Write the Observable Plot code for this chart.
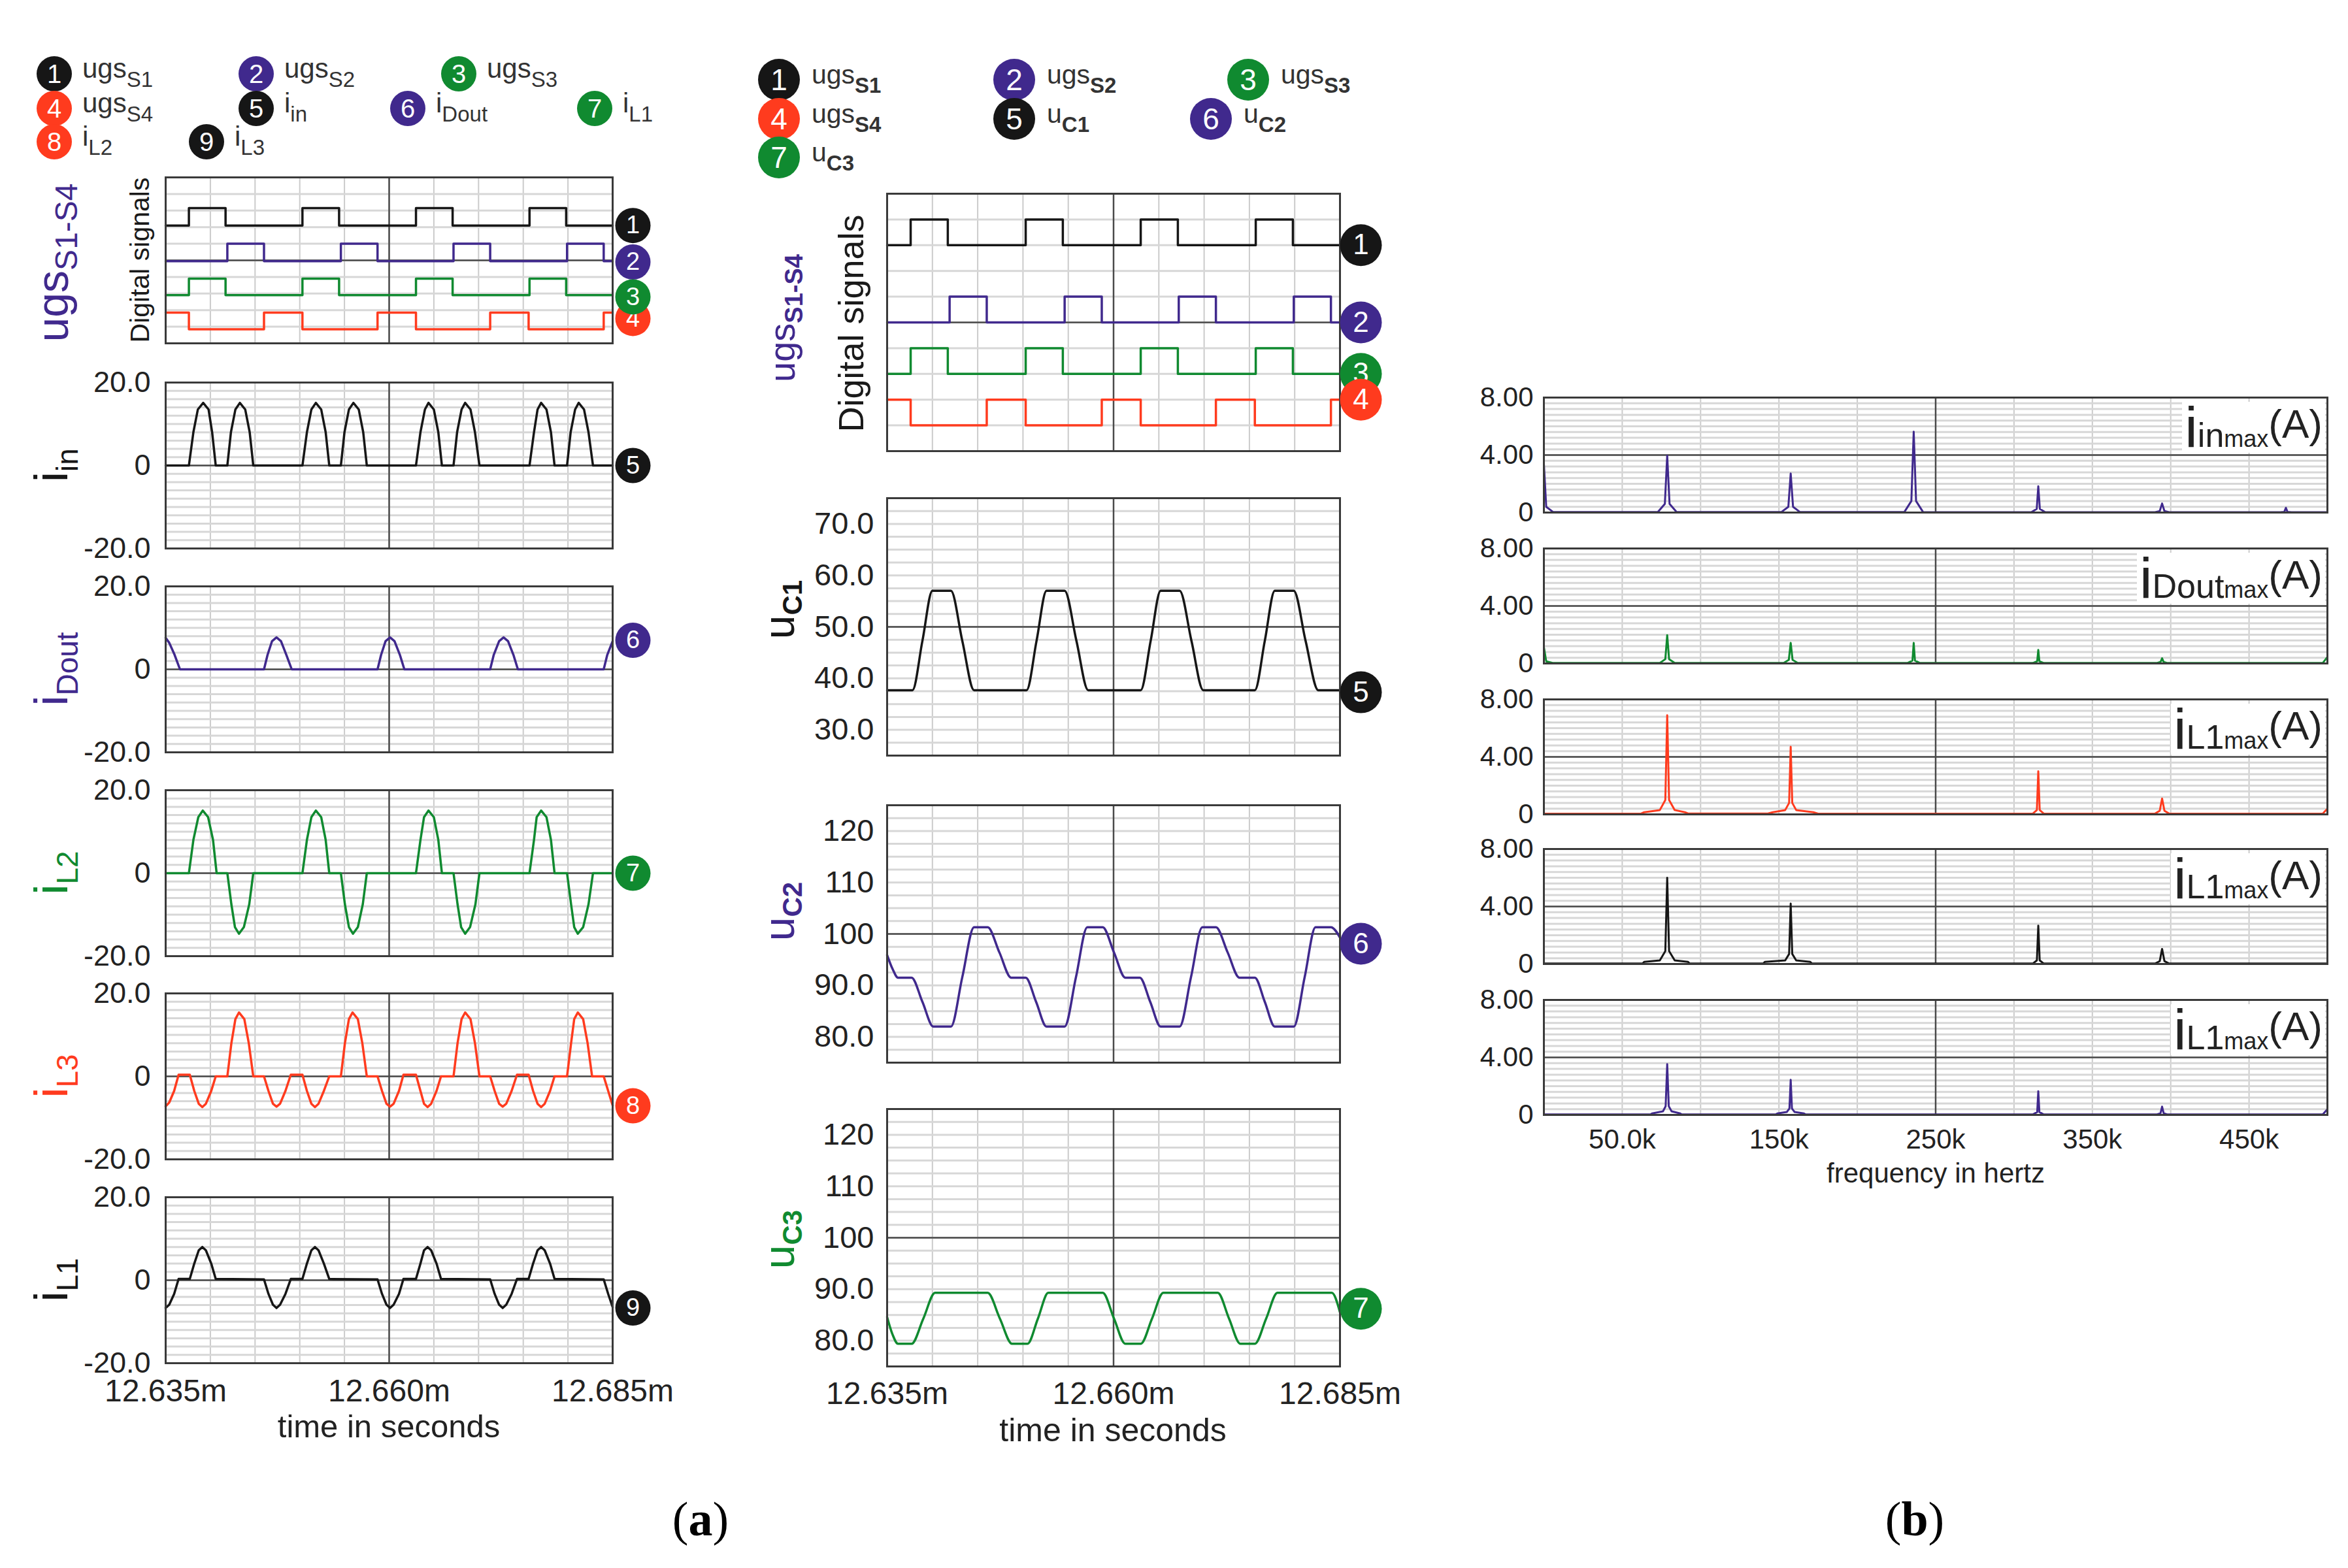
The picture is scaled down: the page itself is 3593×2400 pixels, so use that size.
<!DOCTYPE html>
<html><head><meta charset="utf-8">
<script src="https://cdn.jsdelivr.net/npm/d3@7"></script>
<script src="https://cdn.jsdelivr.net/npm/@observablehq/plot@0.6"></script>
<style>
html,body{margin:0;padding:0;background:#fff}
#root{position:relative;width:3593px;height:2400px;background:#fff;overflow:hidden;font-family:"Liberation Sans",Arial,Helvetica,sans-serif;color:#222}
.abs{position:absolute}
.rot{position:absolute;transform:translate(-50%,-50%) rotate(-90deg);white-space:nowrap;line-height:1}
.ctr{position:absolute;transform:translate(-50%,-50%);white-space:nowrap;line-height:1}
.leg{position:absolute;display:flex;align-items:center;white-space:nowrap;color:#333}
.dotc{border-radius:50%;color:#fff;display:flex;align-items:center;justify-content:center;flex:none}
.sl{position:absolute;background:#fff;white-space:nowrap;color:#222;padding:0 4px}
svg{overflow:visible}
</style></head><body><div id="root"></div>
<script>
// ---------------- DATA ----------------
// time axis: microseconds after 12.635 ms
const timeTicks = [0, 25, 50];
const timeTickLabels = ["12.635m", "12.660m", "12.685m"];
const currentTicks = [-20, 0, 20];
const currentTickLabels = ["-20.0", "0", "20.0"];
const uc1Ticks = [30, 40, 50, 60, 70];
const uc1TickLabels = ["30.0", "40.0", "50.0", "60.0", "70.0"];
const uc23Ticks = [80, 90, 100, 110, 120];
const uc23TickLabels = ["80.0", "90.0", "100", "110", "120"];
const freqTicks = [50, 150, 250, 350, 450];
const freqTickLabels = ["50.0k", "150k", "250k", "350k", "450k"];
const specTicks = [0, 4, 8];
const specTickLabels = ["0", "4.00", "8.00"];

// digital gate signals: [time, state]
const s1Edges = [[0,0],[2.6,1],[6.7,0],[15.3,1],[19.4,0],[28.0,1],[32.1,0],[40.7,1],[44.8,0],[50,0]];
const s2Edges = [[0,0],[6.9,1],[11.0,0],[19.6,1],[23.7,0],[32.2,1],[36.3,0],[44.9,1],[49.0,0],[50,0]];
const s3Edges = [[0,0],[2.6,1],[6.7,0],[15.3,1],[19.4,0],[28.0,1],[32.1,0],[40.7,1],[44.8,0],[50,0]];
const s4Edges = [[0,1],[2.6,0],[11.0,1],[15.3,0],[23.7,1],[28.0,0],[36.3,1],[40.6,0],[49.0,1],[50,1]];
// [low, high] trace levels inside the digital panels
const digLevelsA = {S1:[7.1,8.15], S2:[4.95,6.0], S3:[2.9,3.9], S4:[0.85,1.85]};
const digLevelsB = {S1:[8,9], S2:[5,6], S3:[3,4], S4:[1,2]};

const iIn = [
[0,0],[2.6,0],[3.1,8],[3.6,13.5],[4.2,15.1],[4.8,13.5],[5.2,8],[5.6,0],
[6.9,0],[7.3,8],[7.8,13.5],[8.3,15.1],[8.9,13.5],[9.4,8],[9.8,0],
[15.3,0],[15.8,8],[16.3,13.5],[16.8,15.1],[17.4,13.5],[17.9,8],[18.3,0],
[19.6,0],[20.0,8],[20.5,13.5],[21.0,15.1],[21.6,13.5],[22.1,8],[22.5,0],
[28.0,0],[28.5,8],[29.0,13.5],[29.4,15.1],[30.0,13.5],[30.5,8],[30.9,0],
[32.2,0],[32.6,8],[33.1,13.5],[33.5,15.1],[34.1,13.5],[34.6,8],[35.1,0],
[40.7,0],[41.2,8],[41.6,13.5],[42.0,15.1],[42.6,13.5],[43.1,8],[43.5,0],
[44.9,0],[45.3,8],[45.8,13.5],[46.2,15.1],[46.8,13.5],[47.3,8],[47.8,0],
[50,0]];

const iDout = [
[0,7.6],[0.4,6.4],[1.0,3.5],[1.6,0],
[11.0,0],[11.4,3.5],[11.9,6.8],[12.4,7.7],[12.9,6.8],[13.5,3.5],[14.1,0],
[23.7,0],[24.1,3.5],[24.6,6.8],[25.1,7.7],[25.6,6.8],[26.2,3.5],[26.7,0],
[36.3,0],[36.7,3.5],[37.3,6.8],[37.8,7.7],[38.3,6.8],[38.9,3.5],[39.4,0],
[49.0,0],[49.4,3.5],[50,6.8]];

const iL2 = [
[0,0],[2.6,0],[3.1,8],[3.65,13.5],[4.15,15.1],[4.75,13.5],[5.3,8],[5.7,0],
[6.9,0],[7.35,-7.5],[7.75,-13],[8.2,-14.6],[8.75,-13],[9.35,-7.5],[9.8,0],
[15.3,0],[15.8,8],[16.3,13.5],[16.8,15.1],[17.4,13.5],[17.9,8],[18.3,0],
[19.6,0],[20.05,-7.5],[20.5,-13],[20.95,-14.6],[21.5,-13],[22.05,-7.5],[22.5,0],
[28.0,0],[28.5,8],[28.9,13.5],[29.4,15.1],[30.0,13.5],[30.5,8],[30.9,0],
[32.2,0],[32.65,-7.5],[33.05,-13],[33.5,-14.6],[34.05,-13],[34.65,-7.5],[35.1,0],
[40.7,0],[41.2,8],[41.5,13.5],[42.0,15.1],[42.6,13.5],[43.1,8],[43.5,0],
[44.9,0],[45.35,-7.5],[45.7,-13],[46.1,-14.6],[46.7,-13],[47.3,-7.5],[47.8,0],
[50,0]];

const iL3 = [
[0,-7.2],[0.4,-6.3],[0.95,-3.5],[1.45,0.4],[2.7,0.4],
[3.2,-3.5],[3.7,-6.6],[4.1,-7.4],[4.5,-6.6],[5.1,-3.5],[5.6,0],[6.9,0],
[7.35,8],[7.8,13.8],[8.2,15.4],[8.8,13.8],[9.3,8],[9.8,0],[11.0,0],
[11.5,-3.5],[12.0,-6.6],[12.4,-7.3],[12.8,-6.6],[13.4,-3.5],[14.0,0.4],[15.3,0.4],
[15.8,-3.5],[16.3,-6.6],[16.7,-7.4],[17.1,-6.6],[17.7,-3.5],[18.3,0],[19.6,0],
[20.05,8],[20.5,13.8],[20.9,15.4],[21.5,13.8],[22.0,8],[22.5,0],[23.7,0],
[24.2,-3.5],[24.7,-6.6],[25.1,-7.3],[25.5,-6.6],[26.1,-3.5],[26.6,0.4],[28.0,0.4],
[28.5,-3.5],[28.9,-6.6],[29.3,-7.4],[29.7,-6.6],[30.3,-3.5],[30.8,0],[32.2,0],
[32.65,8],[33.1,13.8],[33.5,15.4],[34.1,13.8],[34.6,8],[35.1,0],[36.3,0],
[36.8,-3.5],[37.3,-6.6],[37.7,-7.3],[38.1,-6.6],[38.7,-3.5],[39.3,0.4],[40.6,0.4],
[41.1,-3.5],[41.6,-6.6],[42.0,-7.4],[42.4,-6.6],[43.0,-3.5],[43.5,0],[44.9,0],
[45.35,8],[45.7,13.8],[46.1,15.4],[46.7,13.8],[47.2,8],[47.7,0],[49.0,0],
[49.5,-3.5],[50,-7.0]];

const iL1 = [
[0,-6.7],[0.4,-5.9],[0.95,-3.3],[1.45,0.3],[2.7,0.3],
[3.2,4],[3.7,7.2],[4.1,8.0],[4.5,7.2],[5.1,4],[5.6,0.3],[11.0,0.2],
[11.5,-3.3],[12.0,-5.9],[12.4,-6.7],[12.8,-5.9],[13.4,-3.3],[14.0,0.3],[15.3,0.3],
[15.8,4],[16.3,7.2],[16.7,8.0],[17.1,7.2],[17.7,4],[18.3,0.3],[23.7,0.2],
[24.2,-3.3],[24.7,-5.9],[25.1,-6.7],[25.5,-5.9],[26.1,-3.3],[26.6,0.3],[28.0,0.3],
[28.5,4],[28.9,7.2],[29.3,8.0],[29.7,7.2],[30.3,4],[30.8,0.3],[36.3,0.2],
[36.8,-3.3],[37.3,-5.9],[37.7,-6.7],[38.1,-5.9],[38.7,-3.3],[39.3,0.3],[40.6,0.3],
[41.1,4],[41.6,7.2],[42.0,8.0],[42.4,7.2],[43.0,4],[43.5,0.3],[49.0,0.2],
[49.5,-3.3],[50,-6.5]];

const uC1 = [
[0,37.7],[2.8,37.7],[3.9,47.3],[5.0,57.0],[7.05,57.0],[8.3,47.3],[9.6,37.7],
[15.4,37.7],[16.5,47.3],[17.6,57.0],[19.6,57.0],[20.9,47.3],[22.2,37.7],
[28.0,37.7],[29.1,47.3],[30.2,57.0],[32.3,57.0],[33.6,47.3],[34.9,37.7],
[40.6,37.7],[41.7,47.3],[42.8,57.0],[44.9,57.0],[46.2,47.3],[47.6,37.7],[50,37.7]];

const uC2 = [
[0,95.9],[0.6,93.2],[1.2,91.5],[2.7,91.5],[3.9,86.8],[5.1,82.0],[7.05,82.0],[8.3,91.6],[9.6,101.3],
[11.1,101.3],[12.4,96.4],[13.7,91.5],[15.3,91.5],[16.45,86.8],[17.6,82.0],[19.6,82.0],[20.85,91.6],[22.1,101.3],
[23.8,101.3],[25.05,96.4],[26.3,91.5],[27.9,91.5],[29.05,86.8],[30.2,82.0],[32.3,82.0],[33.55,91.6],[34.8,101.3],
[36.3,101.3],[37.6,96.4],[38.9,91.5],[40.6,91.5],[41.7,86.8],[42.8,82.0],[44.9,82.0],[46.1,91.6],[47.3,101.3],
[49.0,101.3],[50,99.3]];

const uC3 = [
[0,84.6],[0.6,81.2],[1.2,79.4],[2.7,79.4],[4.0,84.3],[5.3,89.3],
[11.1,89.3],[12.45,84.3],[13.8,79.4],[15.5,79.4],[16.65,84.3],[17.8,89.3],
[23.8,89.3],[25.05,84.3],[26.3,79.4],[28.0,79.4],[29.25,84.3],[30.5,89.3],
[36.5,89.3],[37.75,84.3],[39.0,79.4],[40.6,79.4],[41.85,84.3],[43.1,89.3],
[49.1,89.3],[50,85.5]];

// spectra: [frequency kHz, amplitude A]
const specIin = [
[0,3.4],[1.5,0.4],[6,0.03],
[72.7,0.03],[77.2,0.6],[78.7,3.96],[80.2,0.6],[84.7,0.03],
[151.5,0.03],[156,0.4],[157.5,2.72],[159,0.4],[163.5,0.03],
[230,0.03],[234.5,0.8],[236,5.63],[237.5,0.8],[242,0.03],
[311,0.02],[314.5,0.25],[315.5,1.83],[316.5,0.25],[320,0.02],
[390,0.02],[393,0.1],[394.5,0.63],[396,0.1],[399,0.02],
[470,0.02],[472.5,0.05],[473.5,0.33],[474.5,0.05],[477,0.02],
[500,0.02]];
const specIdout = [
[0,1.15],[1.5,0.15],[6,0.03],
[74,0.03],[77.5,0.3],[78.7,1.97],[79.9,0.3],[83.5,0.03],
[153,0.03],[156.3,0.25],[157.5,1.43],[158.7,0.25],[162,0.03],
[232,0.03],[235.2,0.2],[236,1.43],[236.8,0.2],[240,0.03],
[312,0.03],[314.8,0.15],[315.5,0.94],[316.2,0.15],[319,0.03],
[391,0.03],[393.5,0.1],[394.5,0.36],[395.5,0.1],[398,0.03],
[497,0.03],[500,0.45]];
const specIL1a = [
[0,0.05],[62,0.05],[64,0.15],[74,0.3],[77.5,1.0],[78.7,6.9],[79.9,1.0],[83.5,0.3],[90,0.15],[92,0.06],
[143,0.06],[146,0.15],[154,0.3],[156.5,0.8],[157.5,4.7],[158.5,0.8],[161,0.3],[172,0.15],[175,0.05],
[312,0.05],[314.6,0.3],[315.5,3.0],[316.4,0.3],[319,0.05],
[390,0.05],[393,0.25],[394.5,1.1],[396,0.25],[399,0.05],
[497,0.05],[500,0.4]];
const specIL1b = [
[0,0.03],[63,0.03],[64,0.15],[74,0.25],[77.5,0.9],[78.7,6.0],[79.9,0.9],[83.5,0.25],[92,0.15],[93,0.03],
[140,0.03],[141,0.15],[154,0.25],[156.5,0.7],[157.5,4.2],[158.5,0.7],[161,0.25],[170,0.15],[171,0.03],
[312,0.03],[314.6,0.25],[315.5,2.67],[316.4,0.25],[319,0.03],
[390,0.03],[393,0.2],[394.5,1.05],[396,0.2],[399,0.03],
[500,0.03]];
const specIL1c = [
[0,0.03],[68,0.03],[69,0.1],[76,0.25],[77.7,0.6],[78.7,3.53],[79.7,0.6],[81.5,0.25],[87,0.1],[88,0.03],
[148,0.03],[149,0.1],[155,0.2],[156.7,0.45],[157.5,2.44],[158.3,0.45],[160,0.2],[166,0.1],[167,0.03],
[312,0.03],[314.8,0.2],[315.5,1.65],[316.2,0.2],[319,0.03],
[391,0.03],[393.5,0.12],[394.5,0.58],[395.5,0.12],[398,0.03],
[497,0.03],[500,0.4]];

// ---------------- STYLE ----------------
const BLACK = "#161616", PURPLE = "#40298d", GREEN = "#108a30", RED = "#ff3b1e";
const FONT = '"Liberation Sans", Arial, Helvetica, sans-serif';
const root = document.getElementById("root");

function panel(c) {
  const mL = c.mL, mR = c.mR, mT = c.mT ?? 10, mB = c.mB ?? 10;
  const marks = [
    Plot.ruleX(c.xGrid, {stroke: "#cbcbcb", strokeWidth: 2}),
    Plot.ruleY(c.yGrid, {stroke: "#d7d7d7", strokeWidth: 3}),
    Plot.ruleX([c.xCenter], {stroke: "#4a4a4a", strokeWidth: 2.5}),
    Plot.ruleY([c.yCenter], {stroke: "#4a4a4a", strokeWidth: 2.5})
  ];
  for (const s of c.series) {
    marks.push(Plot.line(s.data, {x: d => d[0], y: s.y || (d => d[1]), stroke: s.color,
      strokeWidth: c.sw || 3.5, curve: s.curve || "linear"}));
  }
  marks.push(Plot.frame({stroke: "#3a3a3a", strokeWidth: 3}));
  for (const m of (c.markers || [])) {
    marks.push(Plot.dot([m], {x: () => c.xDomain[1], y: d => d.y, r: c.mr, fill: m.c, stroke: "none", dx: c.mdx}));
    marks.push(Plot.text([m], {x: () => c.xDomain[1], y: d => d.y, text: d => d.n, fill: "#ffffff", dx: c.mdx, fontSize: c.mfs}));
  }
  const xOpt = {domain: c.xDomain, label: null};
  if (c.xTicks) Object.assign(xOpt, {axis: "bottom", ticks: c.xTicks, tickFormat: d => c.xLabels[c.xTicks.indexOf(d)], tickSize: 0, tickPadding: c.xPad});
  else xOpt.axis = null;
  const yOpt = {domain: c.yDomain, label: null};
  if (c.yTicks) Object.assign(yOpt, {axis: "left", ticks: c.yTicks, tickFormat: d => c.yLabels[c.yTicks.indexOf(d)], tickSize: 0, tickPadding: c.yPad});
  else yOpt.axis = null;
  const svg = Plot.plot({
    width: mL + c.W + mR, height: mT + c.H + mB,
    marginLeft: mL, marginRight: mR, marginTop: mT, marginBottom: mB,
    x: xOpt, y: yOpt,
    style: {fontFamily: FONT, fontSize: (c.yfs || 45) + "px", color: "#222", background: "transparent", overflow: "visible"},
    marks
  });
  if (c.xfs) svg.querySelectorAll('g[aria-label^="x-axis"]').forEach(g => g.style.fontSize = c.xfs + "px");
  const wrap = document.createElement("div");
  wrap.className = "abs";
  wrap.style.left = (c.left - mL) + "px";
  wrap.style.top = (c.top - mT) + "px";
  wrap.appendChild(svg);
  root.appendChild(wrap);
}

function digitalSeries(lv) {
  return [
    {data: s1Edges, y: d => lv.S1[d[1]], color: BLACK, curve: "step-after"},
    {data: s2Edges, y: d => lv.S2[d[1]], color: PURPLE, curve: "step-after"},
    {data: s3Edges, y: d => lv.S3[d[1]], color: GREEN, curve: "step-after"},
    {data: s4Edges, y: d => lv.S4[d[1]], color: RED, curve: "step-after"}
  ];
}

function html(tag, cls, style, inner) {
  const e = document.createElement(tag);
  if (cls) e.className = cls;
  Object.assign(e.style, style);
  e.innerHTML = inner;
  root.appendChild(e);
  return e;
}
function rotTitle(cx, cy, color, inner) {
  html("div", "rot", {left: cx + "px", top: cy + "px", color}, inner);
}
function legendItem(cx, cy, r, num, color, main, sub, o) {
  html("div", "leg", {left: (cx - r) + "px", top: (cy - r) + "px", height: (2 * r) + "px"},
    `<div class="dotc" style="width:${2*r}px;height:${2*r}px;background:${color};font-size:${o.nfs}px">${num}</div>` +
    `<span style="margin-left:${o.gap}px;font-size:${o.mfs}px;line-height:1;position:relative;top:${o.dy}px">${main}` +
    `<span style="font-size:${o.sfs}px;vertical-align:${o.va};font-weight:${o.bold ? 700 : 400}">${sub}</span></span>`);
}

// ---------------- COLUMN (a) left ----------------
const tGrid = d3.range(0, 50.001, 5);
const iGrid = d3.range(-20, 20.001, 2);
const A = {L: 253, W: 684, H: 254, tops: [271, 585, 897, 1209, 1520, 1832]};
const baseA = {left: A.L, W: A.W, H: A.H, mL: 253, mR: 110, xDomain: [0, 50], xGrid: tGrid, xCenter: 25,
  mr: 27, mdx: 31, mfs: 38, yfs: 45, yPad: 23};
panel({...baseA, top: A.tops[0], yDomain: [0, 10], yGrid: d3.range(0, 10.001, 1), yCenter: 5,
  series: digitalSeries(digLevelsA),
  markers: [{n: "4", y: 1.5, c: RED}, {n: "1", y: 7.1, c: BLACK}, {n: "2", y: 4.9, c: PURPLE}, {n: "3", y: 2.8, c: GREEN}]});
const curA = {yDomain: [-20, 20], yGrid: iGrid, yCenter: 0, yTicks: currentTicks, yLabels: currentTickLabels};
panel({...baseA, ...curA, top: A.tops[1], series: [{data: iIn, color: BLACK}], markers: [{n: "5", y: 0, c: BLACK}]});
panel({...baseA, ...curA, top: A.tops[2], series: [{data: iDout, color: PURPLE}], markers: [{n: "6", y: 7.0, c: PURPLE}]});
panel({...baseA, ...curA, top: A.tops[3], series: [{data: iL2, color: GREEN}], markers: [{n: "7", y: 0, c: GREEN}]});
panel({...baseA, ...curA, top: A.tops[4], series: [{data: iL3, color: RED}], markers: [{n: "8", y: -7.1, c: RED}]});
panel({...baseA, ...curA, top: A.tops[5], mB: 100, series: [{data: iL1, color: BLACK}], markers: [{n: "9", y: -6.7, c: BLACK}],
  xTicks: timeTicks, xLabels: timeTickLabels, xPad: 24, xfs: 48});

// ---------------- COLUMN (a) middle ----------------
const B = {L: 1357, W: 693, H: 394, tops: [296, 762, 1232, 1697]};
const baseB = {left: B.L, W: B.W, H: B.H, mL: 200, mR: 110, xDomain: [0, 50], xGrid: tGrid, xCenter: 25,
  mr: 32, mdx: 32, mfs: 44, yfs: 47, yPad: 20};
panel({...baseB, top: B.tops[0], yDomain: [0, 10], yGrid: d3.range(0, 10.001, 1), yCenter: 5,
  series: digitalSeries(digLevelsB),
  markers: [{n: "1", y: 8, c: BLACK}, {n: "2", y: 5, c: PURPLE}, {n: "3", y: 3, c: GREEN}, {n: "4", y: 2, c: RED}]});
panel({...baseB, top: B.tops[1], yDomain: [25, 75], yGrid: d3.range(25, 75.001, 2.5), yCenter: 50,
  yTicks: uc1Ticks, yLabels: uc1TickLabels, series: [{data: uC1, color: BLACK, curve: "monotone-x"}],
  markers: [{n: "5", y: 37.3, c: BLACK}]});
panel({...baseB, top: B.tops[2], yDomain: [75, 125], yGrid: d3.range(75, 125.001, 2.5), yCenter: 100,
  yTicks: uc23Ticks, yLabels: uc23TickLabels, series: [{data: uC2, color: PURPLE, curve: "monotone-x"}],
  markers: [{n: "6", y: 98.1, c: PURPLE}]});
panel({...baseB, top: B.tops[3], mB: 100, yDomain: [75, 125], yGrid: d3.range(75, 125.001, 2.5), yCenter: 100,
  yTicks: uc23Ticks, yLabels: uc23TickLabels, series: [{data: uC3, color: GREEN, curve: "monotone-x"}],
  markers: [{n: "7", y: 86.2, c: GREEN}], xTicks: timeTicks, xLabels: timeTickLabels, xPad: 23, xfs: 48});

// ---------------- COLUMN (b) spectra ----------------
const C = {L: 2362, W: 1199, H: 176, tops: [608, 839, 1070, 1299, 1530]};
const baseC = {left: C.L, W: C.W, H: C.H, mL: 150, mR: 20, xDomain: [0, 500], xGrid: d3.range(0, 500.001, 50), xCenter: 250,
  yDomain: [0, 8], yGrid: d3.range(0, 8.001, 0.4), yCenter: 4, yTicks: specTicks, yLabels: specTickLabels,
  yfs: 42, yPad: 16, sw: 3};
panel({...baseC, top: C.tops[0], series: [{data: specIin, color: PURPLE}]});
panel({...baseC, top: C.tops[1], series: [{data: specIdout, color: GREEN}]});
panel({...baseC, top: C.tops[2], series: [{data: specIL1a, color: RED}]});
panel({...baseC, top: C.tops[3], series: [{data: specIL1b, color: BLACK}]});
panel({...baseC, top: C.tops[4], mB: 80, series: [{data: specIL1c, color: PURPLE}],
  xTicks: freqTicks, xLabels: freqTickLabels, xPad: 22, xfs: 42});

// spectrum labels
const specLabels = ["in", "Dout", "L1", "L1", "L1"];
specLabels.forEach((s, i) => {
  html("div", "sl", {right: (3593 - 3558) + "px", top: (C.tops[i] + 7) + "px", height: "78px", lineHeight: "78px"},
    `<span style="font-size:88px">i</span><span style="font-size:52px">${s}</span><span style="font-size:36px">max</span><span style="font-size:62px;position:relative;top:-14px">(A)</span>`);
});

// ---------------- AXIS TITLES ----------------
rotTitle(80, 402, PURPLE, `<span style="font-size:68px">ugs</span><span style="font-size:48px;position:relative;top:14px">S1-S4</span>`);
rotTitle(214, 398, "#1a1a1a", `<span style="font-size:41px">Digital signals</span>`);
const iTitle = (sub) => `<span style="font-size:72px">i</span><span style="font-size:46px;position:relative;top:16px">${sub}</span>`;
rotTitle(78, 712, BLACK, iTitle("in"));
rotTitle(78, 1024, PURPLE, iTitle("Dout"));
rotTitle(78, 1336, GREEN, iTitle("L2"));
rotTitle(78, 1647, RED, iTitle("L3"));
rotTitle(78, 1959, BLACK, iTitle("L1"));

rotTitle(1197, 487, PURPLE, `<span style="font-size:56px">ugs</span><span style="font-size:38px;font-weight:700;position:relative;top:12px">S1-S4</span>`);
rotTitle(1302, 495, "#1a1a1a", `<span style="font-size:54px">Digital signals</span>`);
const uTitle = (sub) => `<span style="font-size:66px">u</span><span style="font-size:42px;font-weight:700;position:relative;top:12px">${sub}</span>`;
rotTitle(1192, 933, BLACK, uTitle("C1"));
rotTitle(1192, 1395, PURPLE, uTitle("C2"));
rotTitle(1192, 1897, GREEN, uTitle("C3"));

html("div", "ctr", {left: "595px", top: "2183px", fontSize: "49px", color: "#222"}, "time in seconds");
html("div", "ctr", {left: "1703px", top: "2189px", fontSize: "50px", color: "#222"}, "time in seconds");
html("div", "ctr", {left: "2962px", top: "1796px", fontSize: "42px", color: "#222"}, "frequency in hertz");

html("div", "ctr", {left: "1072px", top: "2325px", fontSize: "74px", color: "#000", fontFamily: '"Liberation Serif", "Times New Roman", serif'}, "(<b>a</b>)");
html("div", "ctr", {left: "2930px", top: "2325px", fontSize: "74px", color: "#000", fontFamily: '"Liberation Serif", "Times New Roman", serif'}, "(<b>b</b>)");

// ---------------- LEGENDS ----------------
const legA = {nfs: 40, gap: 16, mfs: 42, sfs: 33, va: "-0.42em", dy: -2, bold: false};
legendItem(83, 113, 27, "1", BLACK, "ugs", "S1", legA);
legendItem(392, 113, 27, "2", PURPLE, "ugs", "S2", legA);
legendItem(702, 113, 27, "3", GREEN, "ugs", "S3", legA);
legendItem(83, 166, 27, "4", RED, "ugs", "S4", legA);
legendItem(392, 166, 27, "5", BLACK, "i", "in", legA);
legendItem(624, 166, 27, "6", PURPLE, "i", "Dout", legA);
legendItem(910, 166, 27, "7", GREEN, "i", "L1", legA);
legendItem(83, 217, 27, "8", RED, "i", "L2", legA);
legendItem(316, 217, 27, "9", BLACK, "i", "L3", legA);

const legB = {nfs: 46, gap: 18, mfs: 41, sfs: 33, va: "-0.42em", dy: -2, bold: true};
legendItem(1192, 122, 32, "1", BLACK, "ugs", "S1", legB);
legendItem(1552, 122, 32, "2", PURPLE, "ugs", "S2", legB);
legendItem(1910, 122, 32, "3", GREEN, "ugs", "S3", legB);
legendItem(1192, 182, 32, "4", RED, "ugs", "S4", legB);
legendItem(1552, 182, 32, "5", BLACK, "u", "C1", legB);
legendItem(1853, 182, 32, "6", PURPLE, "u", "C2", legB);
legendItem(1192, 241, 32, "7", GREEN, "u", "C3", legB);
</script></body></html>
